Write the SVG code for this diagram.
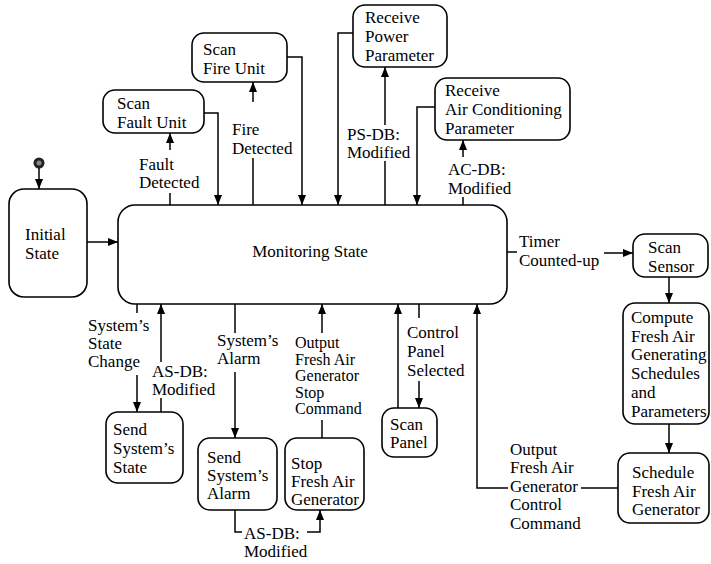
<svg xmlns="http://www.w3.org/2000/svg" width="711" height="564" viewBox="0 0 711 564">
<style>
.box{fill:#fff;stroke:#000;stroke-width:1.6}
.ln{fill:none;stroke:#000;stroke-width:1.5}
.arr{fill:none;stroke:#000;stroke-width:1.5;marker-end:url(#ah)}
.t{font-family:'Liberation Serif',serif;font-size:17px;fill:#000}
.s{font-size:16px}
</style>
<defs>
<marker id="ah" viewBox="0 0 10 8" refX="10" refY="4" markerWidth="10" markerHeight="8" markerUnits="userSpaceOnUse" orient="auto"><path d="M0,0 L10,4 L0,8 z" fill="#000"/></marker>
</defs>
<rect width="711" height="564" fill="#fff"/>

<g id="initial-dot">
<circle cx="39" cy="163" r="5.5" fill="#222"/>
<circle cx="39" cy="163" r="2.5" fill="#888"/>
</g>
<g id="initial-state" class="t">
<rect class="box" x="9" y="189" width="78" height="108" rx="15"/>
<text x="25" y="240">Initial</text>
<text x="25" y="259">State</text>
</g>
<g id="monitoring-state" class="t">
<rect class="box" x="118" y="205" width="389" height="99" rx="17"/>
<text x="310" y="257" text-anchor="middle">Monitoring State</text>
</g>
<g id="scan-fault-unit" class="t">
<rect class="box" x="103" y="90" width="101" height="43" rx="12"/>
<text x="117" y="109">Scan</text>
<text x="117" y="128">Fault Unit</text>
</g>
<g id="scan-fire-unit" class="t">
<rect class="box" x="192" y="33" width="95" height="49" rx="12"/>
<text x="203" y="55">Scan</text>
<text x="203" y="74">Fire Unit</text>
</g>
<g id="receive-power-parameter" class="t">
<rect class="box" x="353" y="5" width="94" height="62" rx="12"/>
<text x="365" y="23">Receive</text>
<text x="365" y="42">Power</text>
<text x="365" y="61">Parameter</text>
</g>
<g id="receive-ac-parameter" class="t">
<rect class="box" x="435" y="78" width="135" height="62" rx="12"/>
<text x="445" y="96">Receive</text>
<text x="445" y="115">Air Conditioning</text>
<text x="445" y="134">Parameter</text>
</g>
<g id="scan-sensor" class="t">
<rect class="box" x="633" y="234" width="75" height="43" rx="12"/>
<text x="648" y="253">Scan</text>
<text x="648" y="272">Sensor</text>
</g>
<g id="compute-fresh-air" class="t">
<rect class="box" x="623" y="303" width="86" height="121" rx="12"/>
<text x="631" y="323">Compute</text>
<text x="631" y="342">Fresh Air</text>
<text x="631" y="360">Generating</text>
<text x="631" y="379">Schedules</text>
<text x="631" y="398">and</text>
<text x="631" y="417">Parameters</text>
</g>
<g id="schedule-fresh-air" class="t">
<rect class="box" x="618" y="453" width="91" height="70" rx="12"/>
<text x="632" y="478">Schedule</text>
<text x="632" y="497">Fresh Air</text>
<text x="632" y="515">Generator</text>
</g>
<g id="scan-panel" class="t">
<rect class="box" x="382" y="408" width="55" height="49" rx="12"/>
<text x="390" y="430">Scan</text>
<text x="390" y="448">Panel</text>
</g>
<g id="send-system-state" class="t">
<rect class="box" x="106" y="412" width="77" height="71" rx="12"/>
<text x="113" y="435">Send</text>
<text x="113" y="454">System’s</text>
<text x="113" y="473">State</text>
</g>
<g id="send-system-alarm" class="t">
<rect class="box" x="198" y="438" width="79" height="72" rx="12"/>
<text x="207" y="463">Send</text>
<text x="207" y="481">System’s</text>
<text x="207" y="499">Alarm</text>
</g>
<g id="stop-fresh-air" class="t">
<rect class="box" x="285" y="438" width="79" height="72" rx="12"/>
<text x="291" y="469">Stop</text>
<text x="291" y="487">Fresh Air</text>
<text x="291" y="505">Generator</text>
</g>

<g id="connectors">
<path class="arr" d="M39,168 V189"/>
<path class="arr" d="M87,242 H118"/>
<path class="arr" d="M204,113 H218 V205"/>
<path class="ln" d="M170,205 V193"/>
<path class="arr" d="M170,150 V133"/>
<path class="arr" d="M287,57 H302 V205"/>
<path class="ln" d="M253,205 V158"/>
<path class="arr" d="M253,102 V82"/>
<path class="arr" d="M353,33 H338 V205"/>
<path class="ln" d="M385,205 V161"/>
<path class="arr" d="M385,125 V67"/>
<path class="arr" d="M435,107 H417 V205"/>
<path class="ln" d="M463,205 V197"/>
<path class="arr" d="M463,157 V140"/>
<path class="ln" d="M507,252 H517"/>
<path class="arr" d="M604,253 H633"/>
<path class="arr" d="M669,277 V303"/>
<path class="arr" d="M669,424 V453"/>
<path class="ln" d="M618,488 H581"/>
<path class="arr" d="M508,488 H477 V304"/>
<path class="arr" d="M398,408 V304"/>
<path class="ln" d="M419,304 V318"/>
<path class="arr" d="M419,381 V408"/>
<path class="ln" d="M137,304 V313"/>
<path class="arr" d="M137,375 V412"/>
<path class="arr" d="M161,362 V304"/>
<path class="ln" d="M161,398 V412"/>
<path class="ln" d="M235,304 V333"/>
<path class="arr" d="M235,372 V438"/>
<path class="ln" d="M235,510 V532 H242"/>
<path class="arr" d="M307,532 H320 V510"/>
<path class="arr" d="M322,333 V304"/>
<path class="ln" d="M322,420 V438"/>
</g>

<g id="labels" class="t">
<text x="139" y="170">Fault</text>
<text x="139" y="188">Detected</text>
<text x="232" y="135">Fire</text>
<text x="232" y="154">Detected</text>
<text x="347" y="140">PS-DB:</text>
<text x="347" y="158">Modified</text>
<text x="448" y="175">AC-DB:</text>
<text x="448" y="194">Modified</text>
<text x="519" y="247">Timer</text>
<text x="519" y="266">Counted-up</text>
<text x="510" y="455">Output</text>
<text x="510" y="473">Fresh Air</text>
<text x="510" y="492">Generator</text>
<text x="510" y="510">Control</text>
<text x="510" y="529">Command</text>
<text x="407" y="338">Control</text>
<text x="407" y="357">Panel</text>
<text x="407" y="376">Selected</text>
<text x="88" y="331">System’s</text>
<text x="88" y="349">State</text>
<text x="88" y="367">Change</text>
<text x="152" y="377">AS-DB:</text>
<text x="152" y="395">Modified</text>
<text x="217" y="346">System’s</text>
<text x="217" y="364">Alarm</text>
<text class="s" x="295" y="348">Output</text>
<text class="s" x="295" y="364.5">Fresh Air</text>
<text class="s" x="295" y="381">Generator</text>
<text class="s" x="295" y="397.5">Stop</text>
<text class="s" x="295" y="414">Command</text>
<text x="244" y="539">AS-DB:</text>
<text x="244" y="557">Modified</text>
</g>
</svg>
